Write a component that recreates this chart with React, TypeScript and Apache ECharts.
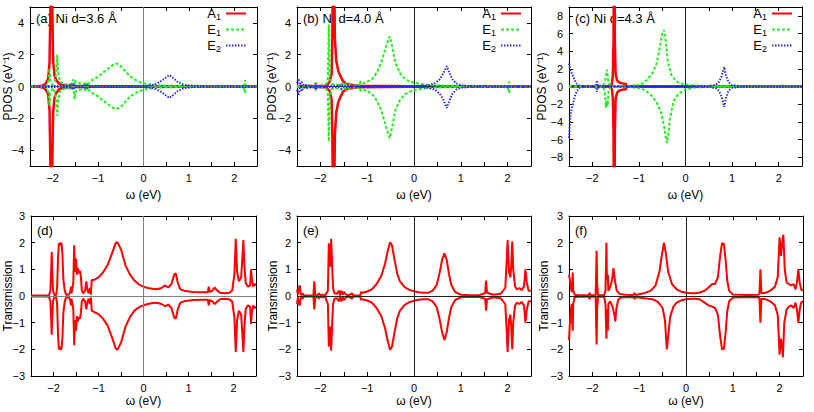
import React, { useEffect, useRef } from 'react';
import * as echarts from 'echarts';

// ---------- tick / label values ----------
const xTickValues = [-2, -1.5, -1, -0.5, 0, 0.5, 1, 1.5, 2];
const xLabelValues = [-2, -1, 0, 1, 2];
const pdosLabelsAB = [-4, -2, 0, 2, 4];
const pdosLabelsC = [-8, -6, -4, -2, 0, 2, 4, 6, 8];
const transLabels = [-3, -2, -1, 0, 1, 2, 3];
const legendNames = ['A₁', 'E₁', 'E₂'];
const panelTitles = ['(a) Ni d=3.6 Å', '(b) Ni d=4.0 Å', '(c) Ni d=4.3 Å', '(d)', '(e)', '(f)'];

// ---------- (a) PDOS, d = 3.6 Å ----------
const aA1Up = [[-2.5,0],[-2.3,0.02],[-2.2,0.08],[-2.15,0.2],[-2.1,0.5],[-2.07,1.5],[-2.05,5],[-2.04,12],[-2.03,20],[-2.02,12],[-2.01,5],[-1.99,1.6],[-1.96,0.7],[-1.92,0.4],[-1.85,0.15],[-1.7,0.06],[-1.5,0.03],[-1,0.02],[0,0.02],[2.5,0.01]];
const aA1Dn = [[-2.5,0],[-2.3,-0.02],[-2.2,-0.08],[-2.15,-0.2],[-2.1,-0.5],[-2.07,-1.5],[-2.05,-5],[-2.04,-12],[-2.03,-20],[-2.02,-12],[-2.01,-5],[-1.99,-1.6],[-1.96,-0.7],[-1.92,-0.4],[-1.85,-0.15],[-1.7,-0.06],[-1.5,-0.03],[-1,-0.02],[0,-0.02],[2.5,-0.01]];
const aE1Up = [[-2.5,0],[-2.2,0.02],[-2.12,0.1],[-2.09,0.4],[-2.07,1.15],[-2.05,0.4],[-2.0,0.1],[-1.96,0.3],[-1.92,0.8],[-1.9,2.0],[-1.88,0.9],[-1.84,0.3],[-1.75,0.15],[-1.65,0.1],[-1.58,0.2],[-1.54,0.45],[-1.52,0.1],[-1.5,0.35],[-1.45,0.3],[-1.4,0.2],[-1.3,0.15],[-1.27,0.3],[-1.25,0.05],[-1.2,0.2],[-1.17,0.35],[-1.1,0.45],[-1.0,0.62],[-0.9,0.85],[-0.8,1.08],[-0.7,1.3],[-0.6,1.45],[-0.5,1.3],[-0.4,0.95],[-0.3,0.65],[-0.2,0.45],[-0.1,0.3],[0,0.2],[0.2,0.1],[0.5,0.05],[1,0.03],[1.5,0.02],[2.2,0.02],[2.24,0.4],[2.26,0.02],[2.5,0.01]];
const aE1Dn = [[-2.5,0],[-2.2,-0.02],[-2.12,-0.1],[-2.09,-0.45],[-2.07,-1.2],[-2.05,-0.4],[-2.0,-0.1],[-1.96,-0.3],[-1.92,-0.8],[-1.9,-1.85],[-1.88,-0.9],[-1.84,-0.3],[-1.75,-0.15],[-1.65,-0.1],[-1.58,-0.2],[-1.54,-0.1],[-1.52,-0.8],[-1.5,-0.3],[-1.45,-0.3],[-1.4,-0.2],[-1.3,-0.15],[-1.27,-0.3],[-1.25,-0.05],[-1.2,-0.2],[-1.17,-0.35],[-1.1,-0.45],[-1.0,-0.62],[-0.9,-0.85],[-0.8,-1.08],[-0.7,-1.3],[-0.6,-1.42],[-0.5,-1.3],[-0.4,-0.95],[-0.3,-0.65],[-0.2,-0.45],[-0.1,-0.3],[0,-0.2],[0.2,-0.1],[0.5,-0.05],[1,-0.03],[1.5,-0.02],[2.2,-0.02],[2.24,-0.4],[2.26,-0.02],[2.5,-0.01]];
const aE2Up = [[-2.5,0.02],[-2.0,0.03],[-1.6,0.05],[-1.55,0.2],[-1.52,0.05],[-1.3,0.05],[-1.25,0.15],[-1.22,0.02],[-0.5,0.02],[0,0.03],[0.2,0.1],[0.3,0.2],[0.4,0.35],[0.5,0.58],[0.57,0.72],[0.65,0.55],[0.75,0.3],[0.85,0.15],[0.95,0.08],[1.1,0.04],[1.4,0.02],[2.5,0.01]];
const aE2Dn = [[-2.5,-0.02],[-2.0,-0.03],[-1.6,-0.05],[-1.55,-0.2],[-1.52,-0.05],[-1.3,-0.05],[-1.25,-0.15],[-1.22,-0.02],[-0.5,-0.02],[0,-0.03],[0.2,-0.1],[0.3,-0.2],[0.4,-0.35],[0.5,-0.58],[0.57,-0.72],[0.65,-0.55],[0.75,-0.3],[0.85,-0.15],[0.95,-0.08],[1.1,-0.04],[1.4,-0.02],[2.5,-0.01]];

// ---------- (b) PDOS, d = 4.0 Å ----------
const bA1Up = [[-2.5,0.01],[-1.9,0.05],[-1.86,0.1],[-1.8,0.3],[-1.76,0.8],[-1.745,3],[-1.73,8],[-1.72,20],[-1.71,8],[-1.69,3],[-1.66,1.6],[-1.62,1.0],[-1.58,0.7],[-1.52,0.35],[-1.46,0.2],[-1.4,0.12],[-1.2,0.05],[0,0.02],[2.5,0.01]];
const bA1Dn = [[-2.5,-0.01],[-1.9,-0.05],[-1.86,-0.1],[-1.8,-0.3],[-1.76,-0.8],[-1.745,-3],[-1.73,-8],[-1.72,-20],[-1.71,-8],[-1.69,-3],[-1.66,-1.6],[-1.62,-1.0],[-1.58,-0.7],[-1.52,-0.35],[-1.46,-0.2],[-1.4,-0.12],[-1.2,-0.05],[0,-0.02],[2.5,-0.01]];
const bE1Up = [[-2.5,0.02],[-2.12,0.02],[-2.1,0.25],[-2.08,0.02],[-2.0,0.03],[-1.88,0.1],[-1.84,0.5],[-1.82,3.9],[-1.8,0.6],[-1.76,0.15],[-1.6,0.1],[-1.55,0.2],[-1.5,0.05],[-1.45,0.2],[-1.4,0.1],[-1.3,0.05],[-1.17,0.1],[-1.15,0.35],[-1.13,0.15],[-1.0,0.3],[-0.9,0.45],[-0.8,0.85],[-0.7,1.5],[-0.6,2.5],[-0.52,3.15],[-0.47,2.6],[-0.4,1.5],[-0.3,0.85],[-0.2,0.5],[-0.1,0.33],[0,0.25],[0.2,0.12],[0.5,0.06],[1,0.03],[2.0,0.02],[2.03,0.3],[2.06,0.02],[2.5,0.01]];
const bE1Dn = [[-2.5,-0.02],[-2.12,-0.02],[-2.1,-0.25],[-2.08,-0.02],[-2.0,-0.03],[-1.88,-0.1],[-1.84,-0.5],[-1.82,-3.45],[-1.8,-0.6],[-1.76,-0.15],[-1.6,-0.1],[-1.55,-0.2],[-1.5,-0.05],[-1.45,-0.2],[-1.4,-0.1],[-1.3,-0.05],[-1.17,-0.1],[-1.15,-0.3],[-1.13,-0.15],[-1.0,-0.3],[-0.9,-0.45],[-0.8,-0.85],[-0.7,-1.5],[-0.6,-2.5],[-0.52,-3.25],[-0.47,-2.6],[-0.4,-1.5],[-0.3,-0.85],[-0.2,-0.5],[-0.1,-0.33],[0,-0.25],[0.2,-0.12],[0.5,-0.06],[1,-0.03],[2.0,-0.02],[2.03,-0.4],[2.06,-0.02],[2.5,-0.01]];
const bE2Up = [[-2.5,0.2],[-2.47,0.5],[-2.44,0.1],[-2.4,0.3],[-2.36,0.05],[-2.3,0.1],[-2.2,0.02],[-2.12,0.02],[-2.1,0.2],[-2.08,0.02],[-1.6,0.05],[-1.55,0.15],[-1.5,0.03],[-1.0,0.02],[0,0.03],[0.3,0.08],[0.45,0.2],[0.55,0.45],[0.63,0.85],[0.7,1.28],[0.75,0.9],[0.82,0.45],[0.9,0.2],[1.0,0.08],[1.2,0.03],[2.5,0.01]];
const bE2Dn = [[-2.5,-0.2],[-2.47,-0.55],[-2.44,-0.1],[-2.4,-0.3],[-2.36,-0.05],[-2.3,-0.1],[-2.2,-0.02],[-2.12,-0.02],[-2.1,-0.2],[-2.08,-0.02],[-1.6,-0.05],[-1.55,-0.15],[-1.5,-0.03],[-1.0,-0.02],[0,-0.03],[0.3,-0.08],[0.45,-0.2],[0.55,-0.45],[0.63,-0.85],[0.7,-1.35],[0.75,-0.95],[0.82,-0.45],[0.9,-0.2],[1.0,-0.08],[1.2,-0.03],[2.5,-0.01]];

// ---------- (c) PDOS, d = 4.3 Å ----------
const cA1Up = [[-2.5,0.02],[-1.7,0.03],[-1.62,0.05],[-1.58,0.3],[-1.56,1.2],[-1.545,5],[-1.53,20],[-1.515,5],[-1.5,1.5],[-1.47,0.7],[-1.42,0.45],[-1.35,0.35],[-1.28,0.3],[-1.26,0.02],[0,0.02],[2.5,0.01]];
const cA1Dn = [[-2.5,-0.02],[-1.7,-0.03],[-1.62,-0.05],[-1.58,-0.3],[-1.56,-1.2],[-1.545,-5],[-1.53,-20],[-1.515,-5],[-1.5,-1.5],[-1.47,-0.7],[-1.42,-0.45],[-1.35,-0.35],[-1.28,-0.3],[-1.26,-0.02],[0,-0.02],[2.5,-0.01]];
const cE1Up = [[-2.5,0.02],[-1.76,0.05],[-1.73,0.5],[-1.71,1.0],[-1.69,1.9],[-1.67,1.2],[-1.65,0.3],[-1.6,0.1],[-1.4,0.05],[-1.12,0.05],[-1.1,0.2],[-1.08,0.05],[-0.9,0.4],[-0.8,0.9],[-0.7,1.6],[-0.62,2.6],[-0.55,4.5],[-0.5,6.0],[-0.46,6.4],[-0.42,5],[-0.38,2.8],[-0.3,1.3],[-0.2,0.6],[-0.1,0.35],[0,0.22],[0.2,0.1],[0.5,0.05],[1,0.03],[2.06,0.02],[2.08,0.15],[2.1,0.02],[2.5,0.01]];
const cE1Dn = [[-2.5,-0.02],[-1.76,-0.05],[-1.73,-0.8],[-1.71,-2.4],[-1.69,-1.6],[-1.67,-2.2],[-1.65,-0.4],[-1.6,-0.1],[-1.4,-0.05],[-1.12,-0.05],[-1.1,-0.2],[-1.08,-0.05],[-0.9,-0.35],[-0.8,-0.7],[-0.7,-1.2],[-0.6,-2.0],[-0.52,-3.0],[-0.46,-4.5],[-0.42,-5.8],[-0.4,-6.4],[-0.37,-5.5],[-0.33,-3.5],[-0.25,-1.6],[-0.15,-0.8],[0,-0.35],[0.2,-0.12],[0.5,-0.05],[1,-0.03],[2.06,-0.02],[2.08,-0.15],[2.1,-0.02],[2.5,-0.01]];
const cE2Up = [[-2.5,2.6],[-2.47,1.8],[-2.44,1.5],[-2.4,1.0],[-2.35,0.4],[-2.3,0.15],[-2.2,0.05],[-2.05,0.02],[-1.92,0.1],[-1.9,0.7],[-1.88,0.1],[-1.5,0.02],[0,0.02],[0.5,0.05],[0.65,0.2],[0.72,0.5],[0.78,1.2],[0.83,2.2],[0.87,1.3],[0.92,0.5],[1.0,0.15],[1.2,0.04],[2.5,0.01]];
const cE2Dn = [[-2.5,-5.8],[-2.47,-3.2],[-2.44,-2.5],[-2.41,-1.9],[-2.37,-1.0],[-2.33,-0.5],[-2.27,-0.15],[-2.2,-0.05],[-2.05,-0.02],[-1.92,-0.1],[-1.9,-0.6],[-1.88,-0.1],[-1.5,-0.02],[0,-0.02],[0.5,-0.05],[0.65,-0.2],[0.72,-0.5],[0.78,-1.2],[0.83,-2.3],[0.87,-1.3],[0.92,-0.5],[1.0,-0.15],[1.2,-0.04],[2.5,-0.01]];

// ---------- (d) Transmission, d = 3.6 Å ----------
const dUp = [[-2.5,0.02],[-2.2,0.02],[-2.1,0.03],[-2.07,0.2],[-2.05,1.0],[-2.04,1.65],[-2.03,1.0],[-2.01,0.2],[-1.98,0.03],[-1.94,0.05],[-1.92,0.3],[-1.9,1.4],[-1.88,1.98],[-1.86,1.9],[-1.84,2.0],[-1.82,1.95],[-1.8,1.5],[-1.78,0.6],[-1.75,0.2],[-1.72,0.05],[-1.66,0.05],[-1.63,0.15],[-1.61,0.35],[-1.6,0.1],[-1.58,0.3],[-1.56,0.5],[-1.54,1.9],[-1.52,0.9],[-1.5,1.4],[-1.48,0.8],[-1.46,1.05],[-1.43,0.85],[-1.41,0.95],[-1.39,0.7],[-1.37,0.2],[-1.34,0.1],[-1.3,0.2],[-1.27,0.55],[-1.25,0.25],[-1.22,0.1],[-1.19,0.3],[-1.17,0.05],[-1.15,0.6],[-1.1,0.6],[-1.0,0.7],[-0.9,0.88],[-0.8,1.15],[-0.7,1.6],[-0.62,1.98],[-0.58,2.02],[-0.5,1.75],[-0.4,1.15],[-0.3,0.8],[-0.2,0.58],[-0.1,0.43],[0,0.35],[0.1,0.3],[0.2,0.27],[0.3,0.25],[0.4,0.3],[0.48,0.4],[0.55,0.32],[0.62,0.45],[0.68,0.8],[0.72,0.85],[0.76,0.5],[0.82,0.25],[0.9,0.2],[1.1,0.15],[1.3,0.14],[1.43,0.14],[1.45,0.35],[1.47,0.15],[1.53,0.2],[1.58,0.32],[1.63,0.22],[1.7,0.12],[1.8,0.1],[1.9,0.12],[1.97,0.2],[2.02,0.8],[2.05,2.15],[2.08,0.9],[2.12,0.55],[2.17,0.7],[2.2,1.5],[2.22,2.1],[2.24,1.2],[2.27,0.5],[2.32,0.35],[2.37,0.4],[2.39,1.0],[2.41,0.6],[2.44,0.35],[2.47,0.45],[2.5,0.4]];
const dDn = [[-2.5,-0.02],[-2.2,-0.02],[-2.1,-0.03],[-2.07,-0.2],[-2.05,-0.9],[-2.04,-1.45],[-2.03,-0.9],[-2.01,-0.2],[-1.98,-0.03],[-1.94,-0.05],[-1.92,-0.3],[-1.9,-1.4],[-1.88,-2.0],[-1.86,-1.9],[-1.84,-2.02],[-1.82,-1.95],[-1.8,-1.5],[-1.78,-0.6],[-1.75,-0.2],[-1.72,-0.05],[-1.66,-0.05],[-1.63,-0.15],[-1.61,-0.35],[-1.6,-0.1],[-1.58,-0.3],[-1.56,-0.5],[-1.54,-1.85],[-1.52,-0.9],[-1.5,-1.3],[-1.48,-0.75],[-1.46,-0.95],[-1.43,-0.8],[-1.41,-0.85],[-1.39,-0.6],[-1.37,-0.2],[-1.34,-0.1],[-1.3,-0.2],[-1.27,-0.5],[-1.25,-0.25],[-1.22,-0.1],[-1.19,-0.3],[-1.17,-0.05],[-1.15,-0.55],[-1.1,-0.6],[-1.0,-0.68],[-0.9,-0.85],[-0.8,-1.1],[-0.7,-1.55],[-0.62,-1.95],[-0.58,-2.02],[-0.5,-1.75],[-0.4,-1.15],[-0.3,-0.78],[-0.2,-0.55],[-0.1,-0.42],[0,-0.35],[0.1,-0.3],[0.2,-0.26],[0.3,-0.25],[0.4,-0.3],[0.48,-0.38],[0.55,-0.32],[0.62,-0.45],[0.68,-0.8],[0.72,-0.85],[0.76,-0.5],[0.82,-0.25],[0.9,-0.2],[1.1,-0.15],[1.3,-0.14],[1.43,-0.14],[1.45,-0.35],[1.47,-0.15],[1.53,-0.2],[1.58,-0.3],[1.63,-0.22],[1.7,-0.12],[1.8,-0.1],[1.9,-0.12],[1.97,-0.2],[2.02,-0.8],[2.05,-2.1],[2.08,-0.9],[2.12,-0.55],[2.17,-0.7],[2.2,-1.5],[2.22,-2.1],[2.24,-1.2],[2.27,-0.5],[2.32,-0.35],[2.37,-0.4],[2.39,-1.05],[2.41,-0.6],[2.44,-0.35],[2.47,-0.45],[2.5,-0.4]];

// ---------- (e) Transmission, d = 4.0 Å ----------
const eUp = [[-2.5,0.25],[-2.48,0.05],[-2.46,0.3],[-2.44,0.4],[-2.42,0.05],[-2.4,0.05],[-2.38,0.1],[-2.35,0.02],[-2.15,0.02],[-2.13,0.55],[-2.11,0.02],[-2.05,0.05],[-2.03,0.1],[-2.0,0.02],[-1.95,0.05],[-1.9,0.02],[-1.84,0.2],[-1.82,1.98],[-1.8,1.2],[-1.79,1.1],[-1.77,2.15],[-1.75,1.2],[-1.73,0.3],[-1.7,0.1],[-1.65,0.08],[-1.6,0.2],[-1.58,0.02],[-1.55,0.2],[-1.52,0.05],[-1.5,0.15],[-1.45,0.05],[-1.4,0.02],[-1.32,0.1],[-1.3,0.02],[-1.15,0.02],[-1.13,0.15],[-1.1,0.12],[-1.0,0.17],[-0.9,0.25],[-0.8,0.45],[-0.7,0.75],[-0.62,1.2],[-0.56,1.7],[-0.51,2.02],[-0.47,1.9],[-0.42,1.4],[-0.36,0.85],[-0.3,0.55],[-0.2,0.33],[-0.1,0.23],[0,0.18],[0.1,0.14],[0.2,0.12],[0.3,0.12],[0.4,0.2],[0.48,0.4],[0.54,0.8],[0.6,1.35],[0.65,1.6],[0.7,1.35],[0.75,0.8],[0.8,0.4],[0.88,0.15],[1.0,0.05],[1.2,0.03],[1.4,0.04],[1.52,0.1],[1.54,0.58],[1.56,0.12],[1.7,0.05],[1.85,0.08],[1.95,0.3],[1.98,1.3],[2.0,2.1],[2.03,0.9],[2.06,0.7],[2.08,1.2],[2.1,2.05],[2.12,1.0],[2.16,0.35],[2.2,0.25],[2.25,0.3],[2.3,0.22],[2.35,0.35],[2.38,1.0],[2.41,0.5],[2.45,0.2],[2.5,0.2]];
const eDn = [[-2.5,-0.3],[-2.48,-0.05],[-2.46,-0.3],[-2.44,-0.35],[-2.42,-0.05],[-2.4,-0.05],[-2.38,-0.1],[-2.35,-0.02],[-2.15,-0.02],[-2.13,-0.5],[-2.11,-0.02],[-2.05,-0.05],[-2.03,-0.1],[-2.0,-0.02],[-1.95,-0.05],[-1.9,-0.02],[-1.84,-0.3],[-1.82,-1.9],[-1.8,-1.15],[-1.79,-1.2],[-1.77,-2.05],[-1.75,-1.1],[-1.73,-0.3],[-1.7,-0.1],[-1.65,-0.08],[-1.6,-0.2],[-1.58,-0.02],[-1.55,-0.2],[-1.52,-0.05],[-1.5,-0.15],[-1.45,-0.05],[-1.4,-0.02],[-1.32,-0.1],[-1.3,-0.02],[-1.15,-0.02],[-1.13,-0.15],[-1.1,-0.12],[-1.0,-0.17],[-0.9,-0.25],[-0.8,-0.45],[-0.7,-0.75],[-0.62,-1.2],[-0.56,-1.7],[-0.51,-2.02],[-0.47,-1.9],[-0.42,-1.4],[-0.36,-0.85],[-0.3,-0.55],[-0.2,-0.33],[-0.1,-0.23],[0,-0.18],[0.1,-0.14],[0.2,-0.12],[0.3,-0.12],[0.4,-0.2],[0.48,-0.4],[0.54,-0.8],[0.6,-1.35],[0.65,-1.65],[0.7,-1.35],[0.75,-0.8],[0.8,-0.4],[0.88,-0.15],[1.0,-0.05],[1.2,-0.03],[1.4,-0.04],[1.52,-0.1],[1.54,-0.55],[1.56,-0.12],[1.7,-0.05],[1.85,-0.08],[1.95,-0.3],[1.98,-1.3],[2.0,-2.1],[2.03,-0.9],[2.06,-0.7],[2.08,-1.2],[2.1,-2.0],[2.12,-1.0],[2.16,-0.35],[2.2,-0.25],[2.25,-0.3],[2.3,-0.22],[2.35,-0.35],[2.38,-1.0],[2.41,-0.5],[2.45,-0.2],[2.5,-0.2]];

// ---------- (f) Transmission, d = 4.3 Å ----------
const fUp = [[-2.5,0.8],[-2.48,0.6],[-2.46,0.3],[-2.44,0.15],[-2.43,0.5],[-2.42,0.88],[-2.41,0.2],[-2.38,0.05],[-2.3,0.03],[-2.08,0.03],[-2.06,0.12],[-2.04,0.03],[-1.93,0.03],[-1.92,0.8],[-1.91,1.7],[-1.9,0.5],[-1.88,0.03],[-1.75,0.03],[-1.72,0.2],[-1.7,2.0],[-1.69,0.6],[-1.67,0.8],[-1.66,0.2],[-1.63,0.3],[-1.58,0.6],[-1.55,1.05],[-1.52,0.6],[-1.48,0.2],[-1.42,0.08],[-1.3,0.05],[-1.12,0.04],[-1.1,0.12],[-1.08,0.04],[-0.9,0.1],[-0.75,0.2],[-0.65,0.4],[-0.57,0.9],[-0.51,1.6],[-0.47,2.0],[-0.43,1.6],[-0.38,0.9],[-0.3,0.45],[-0.2,0.25],[-0.1,0.16],[0,0.12],[0.1,0.1],[0.2,0.1],[0.3,0.13],[0.4,0.2],[0.5,0.35],[0.56,0.45],[0.62,0.45],[0.68,0.7],[0.73,1.5],[0.77,1.98],[0.81,1.95],[0.85,1.3],[0.88,0.6],[0.92,0.2],[1.0,0.06],[1.3,0.04],[1.55,0.05],[1.57,0.1],[1.59,1.0],[1.61,0.1],[1.7,0.12],[1.8,0.2],[1.9,0.35],[1.96,0.7],[2.0,2.2],[2.03,1.5],[2.06,2.1],[2.08,2.3],[2.11,1.0],[2.15,0.5],[2.2,0.45],[2.25,0.4],[2.3,0.45],[2.34,0.25],[2.37,0.5],[2.4,1.0],[2.43,0.5],[2.46,0.25],[2.5,0.2]];
const fDn = [[-2.5,-1.65],[-2.48,-1.0],[-2.46,-0.5],[-2.44,-0.3],[-2.43,-0.9],[-2.42,-1.3],[-2.41,-0.3],[-2.38,-0.05],[-2.3,-0.03],[-2.08,-0.03],[-2.06,-0.12],[-2.04,-0.03],[-1.93,-0.03],[-1.92,-1.0],[-1.91,-1.82],[-1.9,-0.5],[-1.88,-0.03],[-1.75,-0.03],[-1.72,-0.3],[-1.7,-1.6],[-1.69,-0.5],[-1.67,-1.3],[-1.66,-0.3],[-1.62,-0.2],[-1.57,-0.4],[-1.53,-0.7],[-1.51,-0.95],[-1.49,-0.5],[-1.45,-0.15],[-1.4,-0.06],[-1.3,-0.05],[-1.12,-0.04],[-1.1,-0.12],[-1.08,-0.04],[-0.9,-0.08],[-0.7,-0.13],[-0.6,-0.22],[-0.5,-0.45],[-0.45,-0.9],[-0.41,-2.0],[-0.38,-1.5],[-0.34,-0.8],[-0.27,-0.4],[-0.2,-0.25],[-0.1,-0.16],[0,-0.12],[0.1,-0.1],[0.2,-0.1],[0.3,-0.13],[0.4,-0.25],[0.48,-0.35],[0.56,-0.4],[0.62,-0.45],[0.68,-0.7],[0.73,-1.5],[0.77,-2.0],[0.81,-1.98],[0.85,-1.3],[0.88,-0.6],[0.92,-0.2],[1.0,-0.06],[1.3,-0.04],[1.55,-0.05],[1.57,-0.1],[1.59,-1.0],[1.61,-0.1],[1.7,-0.12],[1.8,-0.2],[1.9,-0.35],[1.96,-0.7],[2.0,-2.2],[2.02,-1.6],[2.04,-1.7],[2.07,-2.3],[2.1,-1.0],[2.15,-0.5],[2.2,-0.4],[2.25,-0.35],[2.3,-0.45],[2.34,-0.25],[2.37,-0.5],[2.4,-1.0],[2.43,-0.5],[2.46,-0.25],[2.5,-0.2]];

// ---------- styling ----------
const FONT = "'Liberation Sans', Arial, Helvetica, sans-serif";
const RED = '#ff0000';
const GREEN = '#22ee22';
const BLUE = '#2a2aff';

const fmt = (v: number) => (v < 0 ? '−' + Math.abs(v) : String(v));

type Panel = {
  grid: { left: number; top: number; width: number; height: number };
  yMin: number;
  yMax: number;
  yLabels: number[];
  yName: string;
  yNameGap: number;
  xNameGap: number;
  zeroColor: string;
  curves: { name: string; data: number[][]; color: string; dash: any; width: number }[];
  title: string;
};

const panels: Panel[] = [
  {
    grid: { left: 30, top: 7, width: 227, height: 159 },
    yMin: -5, yMax: 5, yLabels: pdosLabelsAB, yName: 'PDOS (eV⁻¹)', yNameGap: 16, xNameGap: 23,
    zeroColor: '#808080', title: panelTitles[0],
    curves: [
      { name: legendNames[0], data: aA1Up, color: RED, dash: 'solid', width: 2.5 },
      { name: legendNames[0], data: aA1Dn, color: RED, dash: 'solid', width: 2.5 },
      { name: legendNames[1], data: aE1Up, color: GREEN, dash: [3, 2], width: 2 },
      { name: legendNames[1], data: aE1Dn, color: GREEN, dash: [3, 2], width: 2 },
      { name: legendNames[2], data: aE2Up, color: BLUE, dash: [1.5, 1.5], width: 2 },
      { name: legendNames[2], data: aE2Dn, color: BLUE, dash: [1.5, 1.5], width: 2 },
    ],
  },
  {
    grid: { left: 297, top: 7, width: 234, height: 159 },
    yMin: -5, yMax: 5, yLabels: pdosLabelsAB, yName: 'PDOS (eV⁻¹)', yNameGap: 19, xNameGap: 23,
    zeroColor: '#222', title: panelTitles[1],
    curves: [
      { name: legendNames[0], data: bA1Up, color: RED, dash: 'solid', width: 2.5 },
      { name: legendNames[0], data: bA1Dn, color: RED, dash: 'solid', width: 2.5 },
      { name: legendNames[1], data: bE1Up, color: GREEN, dash: [3, 2], width: 2 },
      { name: legendNames[1], data: bE1Dn, color: GREEN, dash: [3, 2], width: 2 },
      { name: legendNames[2], data: bE2Up, color: BLUE, dash: [1.5, 1.5], width: 2 },
      { name: legendNames[2], data: bE2Dn, color: BLUE, dash: [1.5, 1.5], width: 2 },
    ],
  },
  {
    grid: { left: 569, top: 7, width: 233, height: 159 },
    yMin: -9, yMax: 9, yLabels: pdosLabelsC, yName: 'PDOS (eV⁻¹)', yNameGap: 21, xNameGap: 23,
    zeroColor: '#222', title: panelTitles[2],
    curves: [
      { name: legendNames[0], data: cA1Up, color: RED, dash: 'solid', width: 2.5 },
      { name: legendNames[0], data: cA1Dn, color: RED, dash: 'solid', width: 2.5 },
      { name: legendNames[1], data: cE1Up, color: GREEN, dash: [3, 2], width: 2 },
      { name: legendNames[1], data: cE1Dn, color: GREEN, dash: [3, 2], width: 2 },
      { name: legendNames[2], data: cE2Up, color: BLUE, dash: [1.5, 1.5], width: 2 },
      { name: legendNames[2], data: cE2Dn, color: BLUE, dash: [1.5, 1.5], width: 2 },
    ],
  },
  {
    grid: { left: 31, top: 216, width: 225, height: 160 },
    yMin: -3, yMax: 3, yLabels: transLabels, yName: 'Transmission', yNameGap: 17, xNameGap: 19,
    zeroColor: '#808080', title: panelTitles[3],
    curves: [
      { name: 'T↑', data: dUp, color: RED, dash: 'solid', width: 2 },
      { name: 'T↓', data: dDn, color: RED, dash: 'solid', width: 2 },
    ],
  },
  {
    grid: { left: 297, top: 216, width: 234, height: 160 },
    yMin: -3, yMax: 3, yLabels: transLabels, yName: 'Transmission', yNameGap: 18, xNameGap: 19,
    zeroColor: '#222', title: panelTitles[4],
    curves: [
      { name: 'T↑', data: eUp, color: RED, dash: 'solid', width: 2 },
      { name: 'T↓', data: eDn, color: RED, dash: 'solid', width: 2 },
    ],
  },
  {
    grid: { left: 569, top: 216, width: 234, height: 160 },
    yMin: -3, yMax: 3, yLabels: transLabels, yName: 'Transmission', yNameGap: 19, xNameGap: 19,
    zeroColor: '#222', title: panelTitles[5],
    curves: [
      { name: 'T↑', data: fUp, color: RED, dash: 'solid', width: 2 },
      { name: 'T↓', data: fDn, color: RED, dash: 'solid', width: 2 },
    ],
  },
];

const legendRights = [567, 292, 21];
const legendRich: Record<string, string> = { 'A₁': '{m|A}{s|1}', 'E₁': '{m|E}{s|1}', 'E₂': '{m|E}{s|2}' };

function buildOption() {
  const grids: any[] = [];
  const xAxes: any[] = [];
  const yAxes: any[] = [];
  const series: any[] = [];
  const graphics: any[] = [];
  const axisLine = { show: true, onZero: false, lineStyle: { color: '#000', width: 1 } };
  const labelStyle = { color: '#000', fontSize: 11, fontFamily: FONT };
  const nameStyle = { color: '#000', fontSize: 12, fontFamily: FONT };

  panels.forEach((p, i) => {
    grids.push({ ...p.grid, containLabel: false, outerBoundsMode: 'none', show: false });
    const ySplit = p.yLabels;
    xAxes.push({
      type: 'value', gridIndex: i, min: -2.5, max: 2.5, position: 'bottom',
      name: 'ω (eV)', nameLocation: 'middle', nameGap: p.xNameGap, nameMoveOverlap: false, nameTextStyle: nameStyle,
      axisLine, splitLine: { show: false },
      axisTick: { show: true, inside: true, length: 4, customValues: xTickValues, lineStyle: { color: '#000' } },
      axisLabel: { show: true, customValues: xLabelValues, formatter: fmt, margin: 6, ...labelStyle },
    });
    xAxes.push({
      type: 'value', gridIndex: i, min: -2.5, max: 2.5, position: 'top',
      axisLine, splitLine: { show: false },
      axisTick: { show: true, inside: true, length: 4, customValues: xTickValues, lineStyle: { color: '#000' } },
      axisLabel: { show: false },
    });
    yAxes.push({
      type: 'value', gridIndex: i, min: p.yMin, max: p.yMax, position: 'left',
      name: p.yName, nameLocation: 'middle', nameGap: p.yNameGap, nameMoveOverlap: false, nameTextStyle: nameStyle,
      axisLine, splitLine: { show: false },
      axisTick: { show: true, inside: true, length: 4, customValues: ySplit, lineStyle: { color: '#000' } },
      axisLabel: { show: true, customValues: ySplit, formatter: fmt, margin: 6, ...labelStyle },
    });
    yAxes.push({
      type: 'value', gridIndex: i, min: p.yMin, max: p.yMax, position: 'right',
      axisLine, splitLine: { show: false },
      axisTick: { show: true, inside: true, length: 4, customValues: ySplit, lineStyle: { color: '#000' } },
      axisLabel: { show: false },
    });

    p.curves.forEach((c, k) => {
      const s: any = {
        type: 'line', name: c.name, xAxisIndex: 2 * i, yAxisIndex: 2 * i,
        data: c.data, showSymbol: false, symbol: 'none', clip: true,
        lineStyle: { color: c.color, width: c.width, type: c.dash },
        itemStyle: { color: c.color },
        silent: true, z: 3 + k,
      };
      if (k === 0) {
        s.markLine = {
          silent: true, symbol: ['none', 'none'], label: { show: false },
          lineStyle: { color: p.zeroColor, width: 1, type: 'solid' },
          data: [{ xAxis: 0 }, { yAxis: 0 }],
        };
      }
      series.push(s);
    });

    graphics.push({
      type: 'text', x: p.grid.left + 6, y: p.grid.top + (i < 3 ? 11 : 14),
      style: { text: p.title, fill: '#000', fontSize: 13, fontFamily: FONT, verticalAlign: 'middle' },
    });
  });

  const legends = legendRights.map((r) => ({
    orient: 'vertical', right: r, top: 7, align: 'right', padding: 0,
    itemWidth: 20, itemHeight: 10, itemGap: 2, selectedMode: false,
    data: legendNames,
    itemStyle: { opacity: 0 },
    formatter: (n: string) => legendRich[n] || n,
    textStyle: {
      color: '#000', fontSize: 13, fontFamily: FONT,
      rich: {
        m: { fontSize: 13, fontFamily: FONT, color: '#000' },
        s: { fontSize: 9, fontFamily: FONT, color: '#000', padding: [6, 0, 0, 0] },
      },
    },
  }));

  return {
    animation: false,
    backgroundColor: '#fff',
    grid: grids,
    xAxis: xAxes,
    yAxis: yAxes,
    legend: legends,
    series,
    graphic: graphics,
  };
}

export default function App() {
  const ref = useRef<HTMLDivElement>(null);
  useEffect(() => {
    if (!ref.current) return;
    const chart = echarts.init(ref.current, undefined, { renderer: 'svg' });
    chart.setOption(buildOption() as any);
    return () => chart.dispose();
  }, []);
  return (
    <div
      ref={ref}
      style={{ position: 'absolute', left: 0, top: 0, width: 814, height: 412, background: '#fff' }}
    />
  );
}
